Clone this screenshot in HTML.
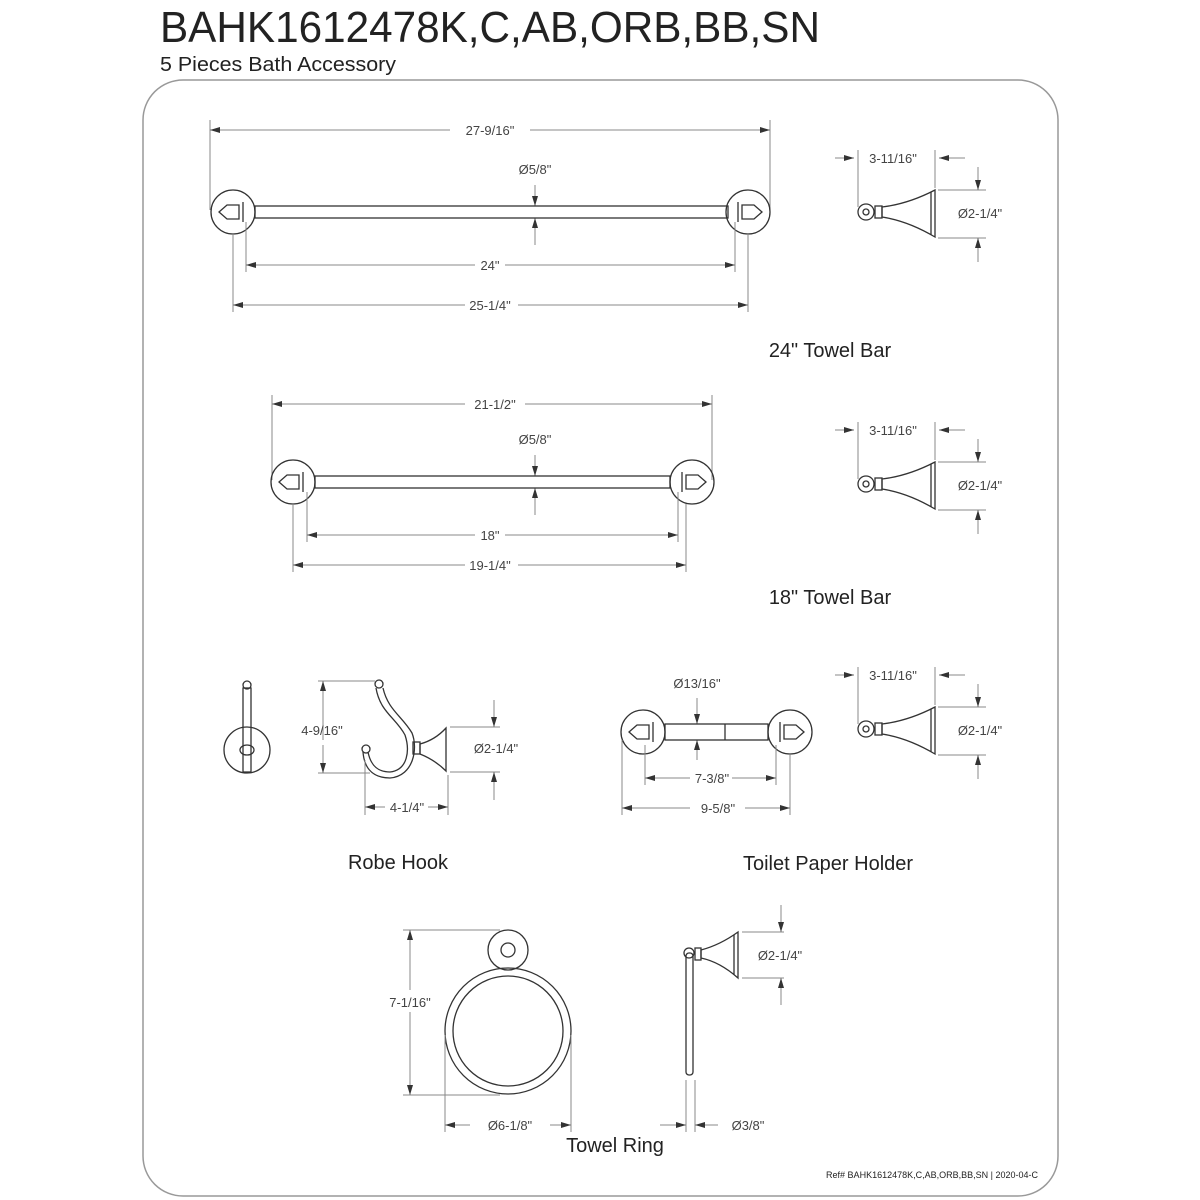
<!DOCTYPE html>
<html><head><meta charset="utf-8"><style>
html,body{margin:0;padding:0;background:#fff}
svg{display:block}
text{font-family:"Liberation Sans",sans-serif;fill:#222}
.d{font-size:13px;fill:#444}
.l{font-size:20px}
.g{stroke:#888;stroke-width:1;fill:none}
.s{stroke:#333;stroke-width:1.3;fill:none}
</style></head><body>
<svg width="1200" height="1200" viewBox="0 0 1200 1200">
<defs>
<marker id="a" viewBox="0 0 10 6" refX="10" refY="3" markerWidth="10" markerHeight="6" orient="auto-start-reverse" markerUnits="userSpaceOnUse"><path d="M0,0L10,3L0,6z" fill="#333"/></marker>
<g id="side">
<line class="g" x1="-31" y1="-54" x2="-12" y2="-54" marker-end="url(#a)"/>
<line class="g" x1="99" y1="-54" x2="73" y2="-54" marker-end="url(#a)"/>
<text class="d" x="27" y="-49" text-anchor="middle" font-size="14">3-11/16"</text>
<line class="g" x1="-8" y1="-62" x2="-8" y2="-5"/>
<line class="g" x1="69" y1="-62" x2="69" y2="-24"/>
<circle class="s" cx="0" cy="0" r="8"/><circle class="s" cx="0" cy="0" r="3"/>
<rect class="s" x="9" y="-6" width="7" height="12"/>
<path class="s" d="M16,-5Q42,-8 69,-22L69,25Q42,9 16,5Z"/>
<line class="s" x1="65" y1="-20" x2="65" y2="23"/>
<line class="g" x1="72" y1="-22" x2="120" y2="-22"/>
<line class="g" x1="72" y1="26" x2="120" y2="26"/>
<line class="g" x1="112" y1="-45" x2="112" y2="-22" marker-end="url(#a)"/>
<line class="g" x1="112" y1="50" x2="112" y2="26" marker-end="url(#a)"/>
<text class="d" x="114" y="6" text-anchor="middle" font-size="14">Ø2-1/4"</text>
</g>
<g id="ros"><circle class="s" r="22"/><path class="s" d="M-14,0L-6,-7L6,-7L6,7L-6,7Z"/><line class="s" x1="10" y1="-10" x2="10" y2="10"/></g>
</defs>

<text x="160" y="42" font-size="44" textLength="660" lengthAdjust="spacingAndGlyphs" fill="#222">BAHK1612478K,C,AB,ORB,BB,SN</text>
<text x="160" y="71" font-size="20" textLength="236" lengthAdjust="spacingAndGlyphs">5 Pieces Bath Accessory</text>
<rect x="143" y="80" width="915" height="1116" rx="40" fill="none" stroke="#999" stroke-width="1.5"/>

<!-- 24 towel bar -->
<line class="g" x1="210" y1="120" x2="210" y2="210"/><line class="g" x1="770" y1="120" x2="770" y2="210"/>
<line class="g" x1="450" y1="130" x2="210" y2="130" marker-end="url(#a)"/><line class="g" x1="530" y1="130" x2="770" y2="130" marker-end="url(#a)"/>
<text class="d" x="490" y="135" text-anchor="middle">27-9/16"</text>
<text class="d" x="535" y="174" text-anchor="middle">Ø5/8"</text>
<line class="g" x1="535" y1="185" x2="535" y2="206" marker-end="url(#a)"/><line class="g" x1="535" y1="245" x2="535" y2="218" marker-end="url(#a)"/>
<use href="#ros" x="233" y="212"/><use href="#ros" transform="translate(748,212) scale(-1,1)"/>
<rect class="s" x="255" y="206" width="473" height="12"/>
<line class="g" x1="246" y1="222" x2="246" y2="272"/><line class="g" x1="735" y1="222" x2="735" y2="272"/>
<line class="g" x1="475" y1="265" x2="246" y2="265" marker-end="url(#a)"/><line class="g" x1="505" y1="265" x2="735" y2="265" marker-end="url(#a)"/>
<text class="d" x="490" y="270" text-anchor="middle">24"</text>
<line class="g" x1="233" y1="234" x2="233" y2="312"/><line class="g" x1="748" y1="234" x2="748" y2="312"/>
<line class="g" x1="465" y1="305" x2="233" y2="305" marker-end="url(#a)"/><line class="g" x1="518" y1="305" x2="748" y2="305" marker-end="url(#a)"/>
<text class="d" x="490" y="310" text-anchor="middle">25-1/4"</text>
<text class="l" x="830" y="357" text-anchor="middle">24" Towel Bar</text>
<use href="#side" x="866" y="212"/>

<!-- 18 towel bar -->
<line class="g" x1="272" y1="395" x2="272" y2="480"/><line class="g" x1="712" y1="395" x2="712" y2="480"/>
<line class="g" x1="465" y1="404" x2="272" y2="404" marker-end="url(#a)"/><line class="g" x1="525" y1="404" x2="712" y2="404" marker-end="url(#a)"/>
<text class="d" x="495" y="409" text-anchor="middle">21-1/2"</text>
<text class="d" x="535" y="444" text-anchor="middle">Ø5/8"</text>
<line class="g" x1="535" y1="455" x2="535" y2="476" marker-end="url(#a)"/><line class="g" x1="535" y1="515" x2="535" y2="488" marker-end="url(#a)"/>
<use href="#ros" x="293" y="482"/><use href="#ros" transform="translate(692,482) scale(-1,1)"/>
<rect class="s" x="315" y="476" width="355" height="12"/>
<line class="g" x1="307" y1="492" x2="307" y2="542"/><line class="g" x1="678" y1="492" x2="678" y2="542"/>
<line class="g" x1="475" y1="535" x2="307" y2="535" marker-end="url(#a)"/><line class="g" x1="505" y1="535" x2="678" y2="535" marker-end="url(#a)"/>
<text class="d" x="490" y="540" text-anchor="middle">18"</text>
<line class="g" x1="293" y1="504" x2="293" y2="572"/><line class="g" x1="686" y1="504" x2="686" y2="572"/>
<line class="g" x1="465" y1="565" x2="293" y2="565" marker-end="url(#a)"/><line class="g" x1="518" y1="565" x2="686" y2="565" marker-end="url(#a)"/>
<text class="d" x="490" y="570" text-anchor="middle">19-1/4"</text>
<text class="l" x="830" y="604" text-anchor="middle">18" Towel Bar</text>
<use href="#side" x="866" y="484"/>

<!-- robe hook -->
<circle class="s" cx="247" cy="750" r="23"/>
<rect class="s" x="243" y="688" width="8" height="84"/>
<circle class="s" cx="247" cy="685" r="4"/><ellipse class="s" cx="247" cy="750" rx="7" ry="5"/>
<line class="g" x1="318" y1="681" x2="375" y2="681"/><line class="g" x1="318" y1="773" x2="370" y2="773"/>
<line class="g" x1="323" y1="740" x2="323" y2="681" marker-end="url(#a)"/><line class="g" x1="323" y1="745" x2="323" y2="773" marker-end="url(#a)"/>
<text class="d" x="322" y="735" text-anchor="middle">4-9/16"</text>
<path class="s" d="M376,688C380,712 396,718 405,735C410,750 408,770 390,772C375,772 370,762 368,752"/>
<path class="s" d="M383,688C388,710 402,716 412,733C418,748 414,776 390,778C370,778 364,765 363,752"/>
<circle class="s" cx="379" cy="684" r="4"/><circle class="s" cx="366" cy="749" r="4"/>
<rect class="s" x="413" y="742" width="7" height="12"/>
<path class="s" d="M420,744Q435,740 446,728L446,771Q435,760 420,754Z"/>
<line class="g" x1="450" y1="727" x2="500" y2="727"/><line class="g" x1="450" y1="772" x2="500" y2="772"/>
<line class="g" x1="494" y1="700" x2="494" y2="727" marker-end="url(#a)"/><line class="g" x1="494" y1="800" x2="494" y2="772" marker-end="url(#a)"/>
<text class="d" x="496" y="753" text-anchor="middle">Ø2-1/4"</text>
<line class="g" x1="365" y1="760" x2="365" y2="815"/><line class="g" x1="448" y1="775" x2="448" y2="815"/>
<line class="g" x1="385" y1="807" x2="365" y2="807" marker-end="url(#a)"/><line class="g" x1="428" y1="807" x2="448" y2="807" marker-end="url(#a)"/>
<text class="d" x="407" y="812" text-anchor="middle">4-1/4"</text>
<text class="l" x="398" y="869" text-anchor="middle">Robe Hook</text>

<!-- toilet paper -->
<text class="d" x="697" y="688" text-anchor="middle">Ø13/16"</text>
<line class="g" x1="697" y1="698" x2="697" y2="724" marker-end="url(#a)"/><line class="g" x1="697" y1="760" x2="697" y2="740" marker-end="url(#a)"/>
<use href="#ros" x="643" y="732"/><use href="#ros" transform="translate(790,732) scale(-1,1)"/>
<rect class="s" x="665" y="724" width="103" height="16"/>
<line class="s" x1="725" y1="724" x2="725" y2="740"/>
<line class="g" x1="645" y1="745" x2="645" y2="785"/><line class="g" x1="776" y1="745" x2="776" y2="785"/>
<line class="g" x1="690" y1="778" x2="645" y2="778" marker-end="url(#a)"/><line class="g" x1="732" y1="778" x2="776" y2="778" marker-end="url(#a)"/>
<text class="d" x="712" y="783" text-anchor="middle">7-3/8"</text>
<line class="g" x1="622" y1="740" x2="622" y2="815"/><line class="g" x1="790" y1="755" x2="790" y2="815"/>
<line class="g" x1="690" y1="808" x2="622" y2="808" marker-end="url(#a)"/><line class="g" x1="745" y1="808" x2="790" y2="808" marker-end="url(#a)"/>
<text class="d" x="718" y="813" text-anchor="middle">9-5/8"</text>
<text class="l" x="828" y="870" text-anchor="middle">Toilet Paper Holder</text>
<use href="#side" x="866" y="729"/>

<!-- towel ring -->
<line class="g" x1="403" y1="930" x2="500" y2="930"/><line class="g" x1="403" y1="1095" x2="500" y2="1095"/>
<line class="g" x1="410" y1="990" x2="410" y2="930" marker-end="url(#a)"/><line class="g" x1="410" y1="1012" x2="410" y2="1095" marker-end="url(#a)"/>
<text class="d" x="410" y="1007" text-anchor="middle">7-1/16"</text>
<circle class="s" cx="508" cy="950" r="20"/><circle class="s" cx="508" cy="950" r="7"/>
<circle class="s" cx="508" cy="1031" r="63"/><circle class="s" cx="508" cy="1031" r="55"/>
<line class="g" x1="445" y1="1035" x2="445" y2="1132"/><line class="g" x1="571" y1="1035" x2="571" y2="1132"/>
<line class="g" x1="470" y1="1125" x2="445" y2="1125" marker-end="url(#a)"/><line class="g" x1="550" y1="1125" x2="571" y2="1125" marker-end="url(#a)"/>
<text class="d" x="510" y="1130" text-anchor="middle">Ø6-1/8"</text>
<text class="l" x="615" y="1152" text-anchor="middle">Towel Ring</text>
<circle class="s" cx="689" cy="953" r="5"/>
<rect class="s" x="686" y="953" width="7" height="122" rx="3"/>
<rect class="s" x="695" y="948" width="6" height="12"/>
<path class="s" d="M701,950Q720,945 738,932L738,978Q720,962 701,958Z"/>
<line class="s" x1="734" y1="935" x2="734" y2="975"/>
<line class="g" x1="742" y1="932" x2="784" y2="932"/><line class="g" x1="742" y1="978" x2="784" y2="978"/>
<line class="g" x1="781" y1="905" x2="781" y2="932" marker-end="url(#a)"/><line class="g" x1="781" y1="1005" x2="781" y2="978" marker-end="url(#a)"/>
<text class="d" x="780" y="960" text-anchor="middle">Ø2-1/4"</text>
<line class="g" x1="686" y1="1080" x2="686" y2="1132"/><line class="g" x1="695" y1="1080" x2="695" y2="1132"/>
<line class="g" x1="660" y1="1125" x2="686" y2="1125" marker-end="url(#a)"/><line class="g" x1="718" y1="1125" x2="695" y2="1125" marker-end="url(#a)"/>
<text class="d" x="748" y="1130" text-anchor="middle">Ø3/8"</text>
<text x="1038" y="1178" font-size="9" text-anchor="end" fill="#444">Ref# BAHK1612478K,C,AB,ORB,BB,SN | 2020-04-C</text>
</svg>
</body></html>
